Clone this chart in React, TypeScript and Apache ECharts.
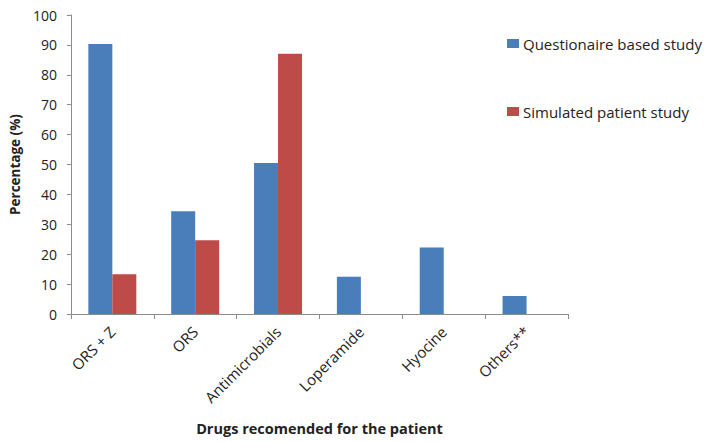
import React, { useEffect, useRef } from "react";
import * as echarts from "echarts";

const categories = ["ORS + Z", "ORS", "Antimicrobials", "Loperamide", "Hyocine", "Others**"];
const questionnaire = [90.3, 34.4, 50.5, 12.5, 22.2, 6];
const simulated = [13.3, 24.7, 87, null, null, null];
const seriesNames = ["Questionaire based study", "Simulated patient study"];
const yTicks = { min: 0, max: 100, interval: 10 };

const FONT = "Open Sans";

export default function App() {
  const ref = useRef<HTMLDivElement>(null);
  useEffect(() => {
    if (!ref.current) return;
    const chart = echarts.init(ref.current, undefined, { renderer: "svg" });
    chart.setOption({
      animation: false,
      backgroundColor: "#ffffff",
      grid: { left: 70, right: 136, top: 15, bottom: 128, containLabel: false },
      legend: {
        orient: "vertical",
        left: 502,
        top: 31,
        itemWidth: 12,
        itemHeight: 9,
        itemGap: 53,
        icon: "rect",
        textStyle: { fontFamily: FONT, fontSize: 15, color: "#222", padding: [0, 0, 0, -1] },
        data: seriesNames,
      },
      xAxis: {
        type: "category",
        data: categories,
        axisLine: { lineStyle: { color: "#8c8c8c", width: 1 } },
        axisTick: { show: true, alignWithLabel: false, length: 5, lineStyle: { color: "#8c8c8c" } },
        axisLabel: {
          rotate: 45,
          interval: 0,
          margin: 15,
          fontFamily: FONT,
          fontSize: 15,
          color: "#222",
        },
      },
      yAxis: {
        type: "value",
        min: yTicks.min,
        max: yTicks.max,
        interval: yTicks.interval,
        name: "Percentage (%)",
        nameLocation: "middle",
        nameGap: 45,
        nameTextStyle: { fontFamily: FONT, fontSize: 13.5, fontWeight: "bold", color: "#222" },
        axisLine: { show: true, lineStyle: { color: "#8c8c8c", width: 1 } },
        axisTick: { show: true, length: 4, lineStyle: { color: "#8c8c8c" } },
        splitLine: { show: false },
        axisLabel: { fontFamily: FONT, fontSize: 14, color: "#222", margin: 14 },
      },
      series: [
        {
          name: seriesNames[0],
          type: "bar",
          data: questionnaire,
          barWidth: 24,
          barGap: "0%",
          itemStyle: { color: "#4a7ebb" },
        },
        {
          name: seriesNames[1],
          type: "bar",
          data: simulated,
          barWidth: 24,
          barGap: "0%",
          itemStyle: { color: "#be4b48" },
        },
      ],
      graphic: [
        {
          type: "text",
          x: 319.5,
          y: 428,
          style: {
            text: "Drugs recomended for the patient",
            fontFamily: FONT,
            fontSize: 14.5,
            fontWeight: "bold",
            fill: "#222",
            align: "center",
            verticalAlign: "middle",
          },
        },
      ],
    });
    return () => chart.dispose();
  }, []);
  return <div ref={ref} style={{ width: 704, height: 442, position: "absolute", left: 0, top: 0 }} />;
}
